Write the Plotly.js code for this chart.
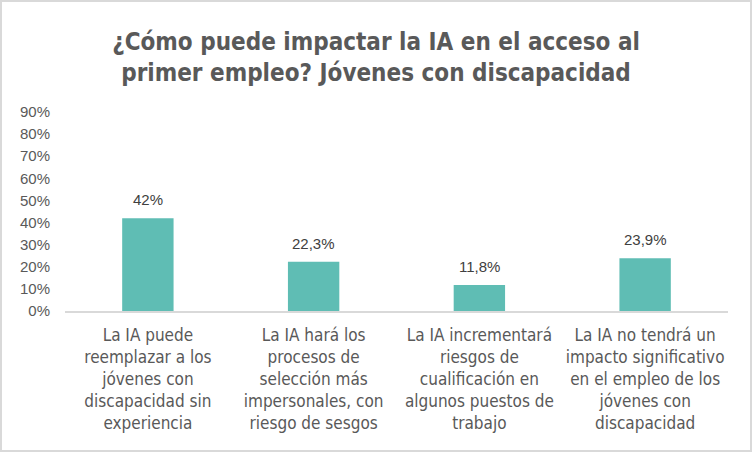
<!DOCTYPE html>
<html>
<head>
<meta charset="utf-8">
<script src="https://cdn.plot.ly/plotly-3.0.1.min.js"></script>
<style>
	body { margin: 0; background: #fff; }
	#chart { width: 748px; height: 448px; border: 2px solid #d9d9d9; }
</style>
</head>
<body>
<div id="chart"></div>
<script>
const categories = [
	"La IA puede<br>reemplazar a los<br>jóvenes con<br>discapacidad sin<br>experiencia",
	"La IA hará los<br>procesos de<br>selección más<br>impersonales, con<br>riesgo de sesgos",
	"La IA incrementará<br>riesgos de<br>cualificación en<br>algunos puestos de<br>trabajo",
	"La IA no tendrá un<br>impacto significativo<br>en el empleo de los<br>jóvenes con<br>discapacidad"
];
const values = [42, 22.3, 11.8, 23.9];
const y_ticks = [0, 10, 20, 30, 40, 50, 60, 70, 80, 90];

const narrow = "'Liberation Sans Narrow', 'DejaVu Sans Condensed', 'Roboto Condensed', sans-serif";
const plain = "'Liberation Sans', Arial, sans-serif";

// excel style labels: 42% / 22,3%
const format_pct = v => (Number.isInteger(v) ? String(v) : v.toFixed(1).replace('.', ',')) + '%';

const chart_data = [
	{
		type: 'bar',
		x: categories,
		y: values,
		marker: {color: '#5fbdb4'},
		hoverinfo: 'none'
	}
];

const chart_layout = {
	width: 748,
	height: 448,
	paper_bgcolor: '#ffffff',
	plot_bgcolor: '#ffffff',
	showlegend: false,
	bargap: 0.69,
	title: {
		text: "¿Cómo puede impactar la IA en el acceso al<br>primer empleo? Jóvenes con discapacidad",
		font: {family: narrow, size: 24, color: '#595959', weight: 'bold'},
		x: 0.5,
		xanchor: 'center',
		yref: 'container',
		y: 0.893,
		yanchor: 'middle'
	},
	margin: {l: 63, r: 22, t: 110, b: 139},
	xaxis: {
		showgrid: false,
		showline: true,
		linecolor: '#d9d9d9',
		linewidth: 1.5,
		ticks: '',
		ticklabelstandoff: 8,
		tickfont: {family: narrow, size: 17, color: '#595959'},
		fixedrange: true
	},
	yaxis: {
		range: [0, 90],
		tickmode: 'array',
		tickvals: y_ticks,
		ticktext: y_ticks.map(v => v + '%'),
		showgrid: false,
		zeroline: false,
		showline: false,
		ticks: '',
		ticklabelstandoff: 14,
		tickfont: {family: plain, size: 15, color: '#595959'},
		fixedrange: true
	},
	annotations: values.map((v, i) => ({
		x: categories[i],
		y: v,
		text: format_pct(v),
		showarrow: false,
		yanchor: 'bottom',
		yshift: 8,
		font: {family: plain, size: 15, color: '#404040'}
	}))
};

Plotly.newPlot('chart', chart_data, chart_layout, {displayModeBar: false, staticPlot: true});
</script>
</body>
</html>
